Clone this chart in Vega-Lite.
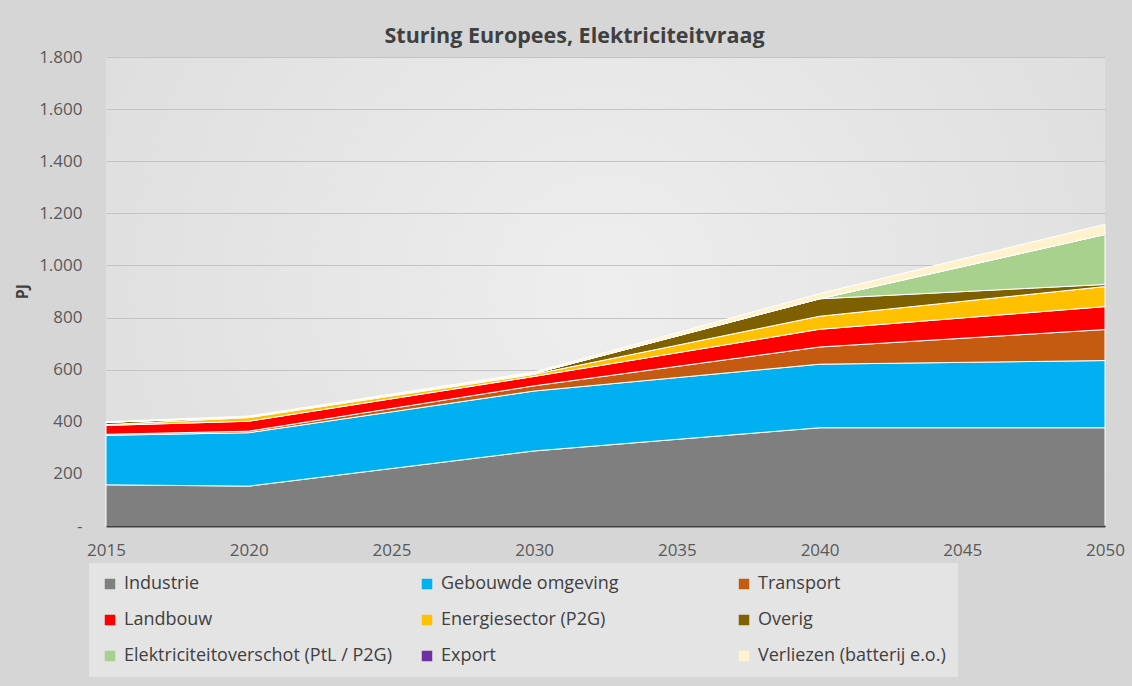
{
  "$schema": "https://vega.github.io/schema/vega-lite/v6.json",
  "width": 999,
  "height": 469,
  "autosize": {"type": "none"},
  "padding": {"left": 106, "top": 57, "right": 27, "bottom": 160},
  "background": "#d6d6d6",
  "title": {
    "text": "Sturing Europees, Elektriciteitvraag",
    "anchor": "middle",
    "dx": -31,
    "dy": 30,
    "offset": 14,
    "baseline": "alphabetic",
    "font": "Open Sans",
    "fontSize": 21.5,
    "fontWeight": "bold",
    "color": "#404040"
  },
  "data": {
    "values": [
      {"year": 2015, "sector": "Industrie", "n": 1, "pj": 158},
      {"year": 2015, "sector": "Gebouwde omgeving", "n": 2, "pj": 190},
      {"year": 2015, "sector": "Transport", "n": 3, "pj": 4},
      {"year": 2015, "sector": "Landbouw", "n": 4, "pj": 34},
      {"year": 2015, "sector": "Energiesector (P2G)", "n": 5, "pj": 3},
      {"year": 2015, "sector": "Overig", "n": 6, "pj": 9},
      {"year": 2015, "sector": "Elektriciteitoverschot (PtL / P2G)", "n": 7, "pj": 0},
      {"year": 2015, "sector": "Export", "n": 8, "pj": 0},
      {"year": 2015, "sector": "Verliezen (batterij e.o.)", "n": 9, "pj": 2},
      {"year": 2020, "sector": "Industrie", "n": 1, "pj": 153},
      {"year": 2020, "sector": "Gebouwde omgeving", "n": 2, "pj": 205},
      {"year": 2020, "sector": "Transport", "n": 3, "pj": 6},
      {"year": 2020, "sector": "Landbouw", "n": 4, "pj": 38},
      {"year": 2020, "sector": "Energiesector (P2G)", "n": 5, "pj": 14},
      {"year": 2020, "sector": "Overig", "n": 6, "pj": 2},
      {"year": 2020, "sector": "Elektriciteitoverschot (PtL / P2G)", "n": 7, "pj": 0},
      {"year": 2020, "sector": "Export", "n": 8, "pj": 0},
      {"year": 2020, "sector": "Verliezen (batterij e.o.)", "n": 9, "pj": 4},
      {"year": 2030, "sector": "Industrie", "n": 1, "pj": 288},
      {"year": 2030, "sector": "Gebouwde omgeving", "n": 2, "pj": 230},
      {"year": 2030, "sector": "Transport", "n": 3, "pj": 20},
      {"year": 2030, "sector": "Landbouw", "n": 4, "pj": 36},
      {"year": 2030, "sector": "Energiesector (P2G)", "n": 5, "pj": 8},
      {"year": 2030, "sector": "Overig", "n": 6, "pj": 4},
      {"year": 2030, "sector": "Elektriciteitoverschot (PtL / P2G)", "n": 7, "pj": 0},
      {"year": 2030, "sector": "Export", "n": 8, "pj": 0},
      {"year": 2030, "sector": "Verliezen (batterij e.o.)", "n": 9, "pj": 5},
      {"year": 2040, "sector": "Industrie", "n": 1, "pj": 377},
      {"year": 2040, "sector": "Gebouwde omgeving", "n": 2, "pj": 244},
      {"year": 2040, "sector": "Transport", "n": 3, "pj": 66},
      {"year": 2040, "sector": "Landbouw", "n": 4, "pj": 68},
      {"year": 2040, "sector": "Energiesector (P2G)", "n": 5, "pj": 50},
      {"year": 2040, "sector": "Overig", "n": 6, "pj": 67},
      {"year": 2040, "sector": "Elektriciteitoverschot (PtL / P2G)", "n": 7, "pj": 0},
      {"year": 2040, "sector": "Export", "n": 8, "pj": 0},
      {"year": 2040, "sector": "Verliezen (batterij e.o.)", "n": 9, "pj": 20},
      {"year": 2050, "sector": "Industrie", "n": 1, "pj": 377},
      {"year": 2050, "sector": "Gebouwde omgeving", "n": 2, "pj": 258},
      {"year": 2050, "sector": "Transport", "n": 3, "pj": 119},
      {"year": 2050, "sector": "Landbouw", "n": 4, "pj": 88},
      {"year": 2050, "sector": "Energiesector (P2G)", "n": 5, "pj": 77},
      {"year": 2050, "sector": "Overig", "n": 6, "pj": 8},
      {"year": 2050, "sector": "Elektriciteitoverschot (PtL / P2G)", "n": 7, "pj": 192},
      {"year": 2050, "sector": "Export", "n": 8, "pj": 0},
      {"year": 2050, "sector": "Verliezen (batterij e.o.)", "n": 9, "pj": 39}
    ]
  },
  "mark": {"type": "area", "stroke": "white", "strokeWidth": 1, "opacity": 1},
  "encoding": {
    "x": {
      "field": "year",
      "type": "quantitative",
      "scale": {"domain": [2015, 2050], "nice": false, "zero": false},
      "axis": {
        "values": [2015, 2020, 2025, 2030, 2035, 2040, 2045, 2050],
        "format": "d",
        "title": null,
        "grid": false,
        "ticks": false,
        "labelFlush": false,
        "labelPadding": 16,
        "labelFont": "Open Sans",
        "labelFontSize": 17,
        "labelColor": "#595959",
        "domainColor": "#404040",
        "domainWidth": 2,
        "zindex": 1
      }
    },
    "y": {
      "field": "pj",
      "type": "quantitative",
      "stack": "zero",
      "scale": {"domain": [0, 1800], "nice": false},
      "axis": {
        "values": [0, 200, 400, 600, 800, 1000, 1200, 1400, 1600, 1800],
        "labelExpr": "datum.value == 0 ? '-' : replace(format(datum.value, ','), ',', '.')",
        "title": "PJ",
        "titleFont": "Open Sans",
        "titleFontSize": 16,
        "titleFontWeight": "bold",
        "titleColor": "#404040",
        "titleX": -84,
        "titleY": 234,
        "titleAlign": "center",
        "titleBaseline": "middle",
        "domain": false,
        "ticks": false,
        "labelPadding": 24,
        "labelFont": "Open Sans",
        "labelFontSize": 17,
        "labelColor": "#595959",
        "gridColor": "#c4c4c4",
        "gridWidth": 1
      }
    },
    "order": {"field": "n", "type": "quantitative", "sort": "ascending"},
    "color": {
      "field": "sector",
      "type": "nominal",
      "sort": ["Industrie", "Gebouwde omgeving", "Transport", "Landbouw", "Energiesector (P2G)", "Overig", "Elektriciteitoverschot (PtL / P2G)", "Export", "Verliezen (batterij e.o.)"],
      "scale": {
        "domain": ["Industrie", "Gebouwde omgeving", "Transport", "Landbouw", "Energiesector (P2G)", "Overig", "Elektriciteitoverschot (PtL / P2G)", "Export", "Verliezen (batterij e.o.)"],
        "range": ["#7f7f7f", "#00b0f0", "#c55a11", "#ff0000", "#ffc000", "#7f6000", "#a9d18e", "#7030a0", "#fff2cc"]
      },
      "legend": {
        "orient": "none",
        "legendX": -17,
        "legendY": 506,
        "direction": "horizontal",
        "columns": 3,
        "gridAlign": "all",
        "columnPadding": 26,
        "rowPadding": 18,
        "symbolType": "square",
        "symbolSize": 110,
        "symbolStrokeWidth": 0,
        "labelFont": "Open Sans",
        "labelFontSize": 18,
        "labelColor": "#404040",
        "labelLimit": 400,
        "labelOffset": 5,
        "fillColor": "#e4e4e4",
        "padding": 12,
        "title": null
      }
    }
  },
  "config": {
    "view": {
      "stroke": null,
      "fill": {
        "gradient": "radial",
        "x1": 0.5, "y1": 0.5, "x2": 0.5, "y2": 0.5,
        "r1": 0, "r2": 0.75,
        "stops": [{"offset": 0, "color": "#eeeeee"}, {"offset": 1, "color": "#d9d9d9"}]
      }
    }
  }
}
